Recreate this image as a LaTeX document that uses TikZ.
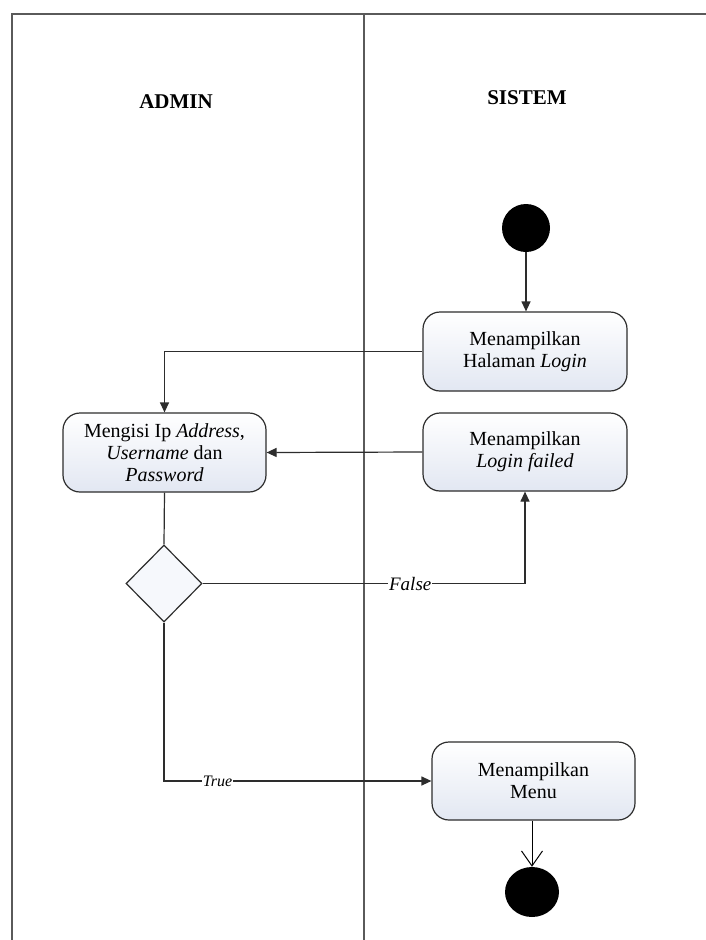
\documentclass[tikz,border=0pt]{standalone}
\usepackage{fontspec}
\setmainfont{Liberation Serif}
\usetikzlibrary{shapes.geometric,arrows.meta}
\definecolor{edgecol}{RGB}{45,45,45}
\definecolor{framecol}{RGB}{90,90,90}
\definecolor{boxbot}{RGB}{226,231,242}
\definecolor{diafill}{RGB}{246,248,252}
\tikzset{
  actbox/.style={draw=edgecol, line width=1.2pt, rounded corners=17pt,
    top color=white, bottom color=boxbot, align=center,
    font=\fontsize{20}{22}\selectfont, inner sep=2pt},
  decision/.style={draw=edgecol, line width=1.2pt, diamond, fill=diafill,
    minimum width=76pt, minimum height=77pt, inner sep=0pt},
  arr/.style={draw=edgecol, line width=1.2pt, -{Triangle[length=10pt,width=9pt]}},
  barb/.style={draw=black, line width=1pt, -{Straight Barb[length=15pt,width=21pt]}},
  lab/.style={fill=white, inner sep=1pt, font=\itshape},
  lane/.style={draw=framecol, line width=2pt},
  title/.style={font=\bfseries\fontsize{21}{24}\selectfont}
}
\begin{document}
\begin{tikzpicture}[x=1pt,y=-1pt]
\useasboundingbox (0,0) rectangle (706,940);
\fill[white] (0,0) rectangle (706,940);
% swimlanes
\coordinate (tl) at (12,14);
\coordinate (tr) at (706,14);
\coordinate (bl) at (12,940);
\coordinate (dt) at (364,14);
\coordinate (db) at (364,940);
\draw[lane] (tr) -- (tl) -- (bl);
\draw[lane] (dt) -- (db);
\node[title] (admin) at (176,102) {ADMIN};
\node[title] (sistem) at (527,98) {SISTEM};
% nodes
\node[circle, fill=black, minimum size=48pt, inner sep=0pt] (start) at (526,228) {};
\node[actbox, minimum width=204pt, minimum height=79pt] (login) at (525,351.5)
  {Menampilkan\\Halaman \textit{Login}};
\node[actbox, minimum width=204pt, minimum height=78pt] (failed) at (525,452)
  {Menampilkan\\\textit{Login failed}};
\node[actbox, minimum width=203pt, minimum height=79pt] (isi) at (164.5,452.5)
  {Mengisi Ip \textit{Address},\\\textit{Username} dan\\\textit{Password}};
\node[decision] (dia) at (164,583.5) {};
\node[actbox, minimum width=203pt, minimum height=78pt] (menu) at (533.5,781)
  {Menampilkan\\Menu};
\node[ellipse, fill=black, minimum width=54pt, minimum height=50pt, inner sep=0pt] (end) at (532,892) {};
% connectors
\draw[arr] (start.south) -- (start.south |- login.north);
\draw[arr] (login.west) -| (isi.north);
\draw[arr] (failed.west) -- (isi.east);
\draw[draw=edgecol, line width=1.2pt] (isi.south) -- (dia.north);
\draw[arr] (dia.east) -- node[lab, pos=0.644, font=\itshape\fontsize{19}{22}\selectfont] {False} (dia.east -| failed.south) -- (failed.south);
\draw[arr] (dia.south) |- node[lab, pos=0.6, font=\itshape\fontsize{16}{18}\selectfont] {True} (menu.west);
\draw[barb] (menu.south -| end.north) -- (end.north);
\end{tikzpicture}
\end{document}
